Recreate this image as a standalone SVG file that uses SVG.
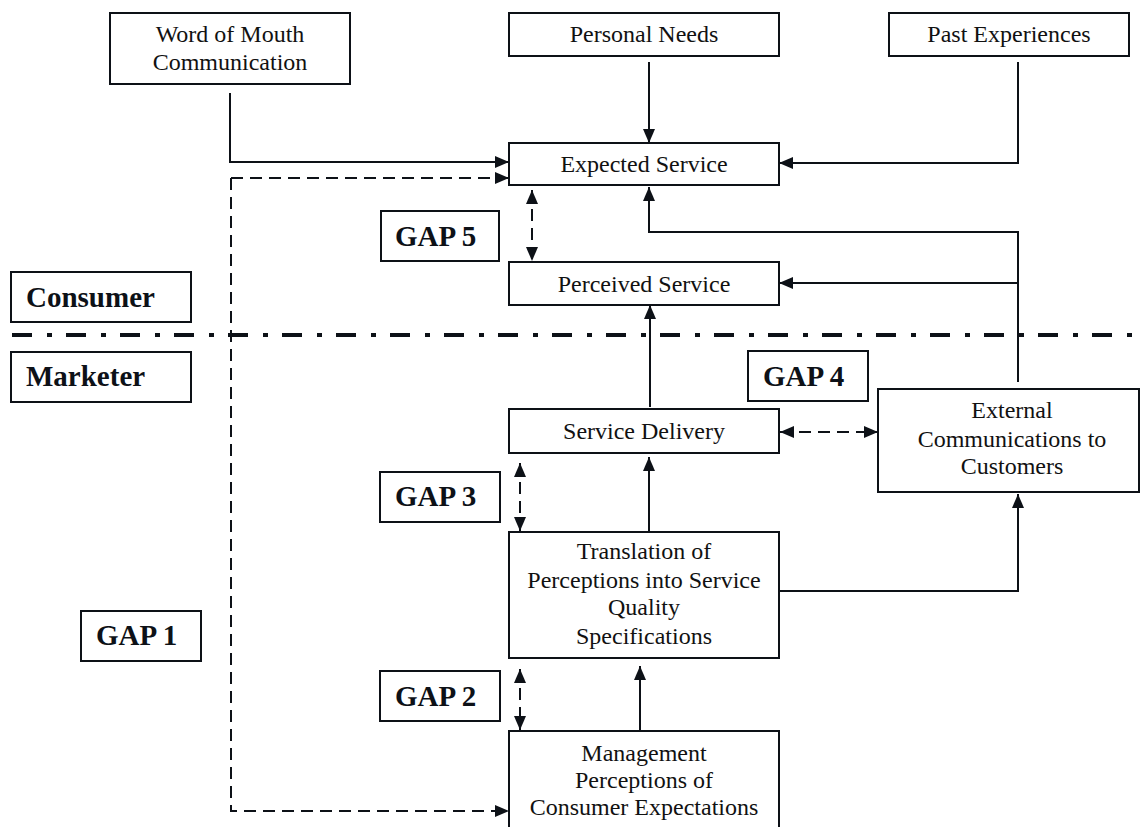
<svg xmlns="http://www.w3.org/2000/svg" width="1140" height="827" viewBox="0 0 1140 827">
<style>
  .box { fill: #ffffff; stroke: #0d1117; stroke-width: 2; }
  .t { font-family: "Liberation Serif", "Times New Roman", serif; font-size: 24px; fill: #111111; text-anchor: middle; }
  .b { font-family: "Liberation Serif", "Times New Roman", serif; font-size: 29px; font-weight: bold; fill: #0d1117; }
  .ln { fill: none; stroke: #0d1117; stroke-width: 2; }
  .ds { fill: none; stroke: #0d1117; stroke-width: 2; stroke-dasharray: 12 7; }
  .div { fill: none; stroke: #0d1117; stroke-width: 4; stroke-dasharray: 20 15 5 14; }
</style>
<defs>
  <marker id="ah" viewBox="0 0 14 12" refX="14" refY="6" markerWidth="14" markerHeight="12" markerUnits="userSpaceOnUse" orient="auto-start-reverse">
    <path d="M0,0 L14,6 L0,12 z" fill="#0d1117" stroke="none"/>
  </marker>
</defs>
<rect width="1140" height="827" fill="#ffffff"/>

<g id="divider">
  <line class="div" x1="12" y1="335" x2="1140" y2="335"/>
</g>

<g id="connectors">
  <path class="ln" d="M230,93 V162 H509" marker-end="url(#ah)"/>
  <path class="ds" d="M231,178 H509" marker-end="url(#ah)"/>
  <path class="ds" d="M231,178 V811 H509" marker-end="url(#ah)"/>
  <path class="ln" d="M649,62 V143" marker-end="url(#ah)"/>
  <path class="ln" d="M1018,62 V163 H779" marker-end="url(#ah)"/>
  <path class="ln" d="M1018,382 V232 H649 V187" marker-end="url(#ah)"/>
  <path class="ln" d="M1018,283 H779" marker-end="url(#ah)"/>
  <path class="ds" d="M532,190 V261" marker-start="url(#ah)" marker-end="url(#ah)"/>
  <path class="ln" d="M650,407 V305" marker-end="url(#ah)"/>
  <path class="ds" d="M780,432 H878" marker-start="url(#ah)" marker-end="url(#ah)"/>
  <path class="ds" d="M520,463 V531" marker-start="url(#ah)" marker-end="url(#ah)"/>
  <path class="ln" d="M649,532 V457" marker-end="url(#ah)"/>
  <path class="ln" d="M779,591 H1018 V494" marker-end="url(#ah)"/>
  <path class="ds" d="M520,669 V730" marker-start="url(#ah)" marker-end="url(#ah)"/>
  <path class="ln" d="M640,731 V666" marker-end="url(#ah)"/>
</g>

<g id="word-of-mouth">
  <rect class="box" x="110" y="13" width="240" height="71"/>
  <text class="t" x="230" y="42">Word of Mouth</text>
  <text class="t" x="230" y="70">Communication</text>
</g>
<g id="personal-needs">
  <rect class="box" x="509" y="13" width="270" height="43"/>
  <text class="t" x="644" y="42">Personal Needs</text>
</g>
<g id="past-experiences">
  <rect class="box" x="889" y="13" width="240" height="43"/>
  <text class="t" x="1009" y="42">Past Experiences</text>
</g>
<g id="expected-service">
  <rect class="box" x="509" y="143" width="270" height="42"/>
  <text class="t" x="644" y="172">Expected Service</text>
</g>
<g id="perceived-service">
  <rect class="box" x="509" y="262" width="270" height="43"/>
  <text class="t" x="644" y="292">Perceived Service</text>
</g>
<g id="gap5">
  <rect class="box" x="381" y="211" width="118" height="50"/>
  <text class="b" x="395" y="246">GAP 5</text>
</g>
<g id="consumer">
  <rect class="box" x="11" y="272" width="180" height="50"/>
  <text class="b" x="26" y="307">Consumer</text>
</g>
<g id="marketer">
  <rect class="box" x="11" y="352" width="180" height="50"/>
  <text class="b" x="26" y="386">Marketer</text>
</g>
<g id="gap4">
  <rect class="box" x="748" y="351" width="120" height="50"/>
  <text class="b" x="763" y="386">GAP 4</text>
</g>
<g id="service-delivery">
  <rect class="box" x="509" y="409" width="270" height="44"/>
  <text class="t" x="644" y="439">Service Delivery</text>
</g>
<g id="external-communications">
  <rect class="box" x="878" y="389" width="261" height="103"/>
  <text class="t" x="1012" y="418">External</text>
  <text class="t" x="1012" y="447">Communications to</text>
  <text class="t" x="1012" y="474">Customers</text>
</g>
<g id="gap3">
  <rect class="box" x="380" y="472" width="120" height="50"/>
  <text class="b" x="395" y="506">GAP 3</text>
</g>
<g id="translation">
  <rect class="box" x="509" y="532" width="270" height="126"/>
  <text class="t" x="644" y="559">Translation of</text>
  <text class="t" x="644" y="588">Perceptions into Service</text>
  <text class="t" x="644" y="615">Quality</text>
  <text class="t" x="644" y="644">Specifications</text>
</g>
<g id="gap1">
  <rect class="box" x="81" y="611" width="120" height="50"/>
  <text class="b" x="96" y="645">GAP 1</text>
</g>
<g id="gap2">
  <rect class="box" x="380" y="671" width="120" height="50"/>
  <text class="b" x="395" y="706">GAP 2</text>
</g>
<g id="management">
  <rect class="box" x="509" y="731" width="270" height="120"/>
  <text class="t" x="644" y="761">Management</text>
  <text class="t" x="644" y="788">Perceptions of</text>
  <text class="t" x="644" y="815">Consumer Expectations</text>
</g>
</svg>
